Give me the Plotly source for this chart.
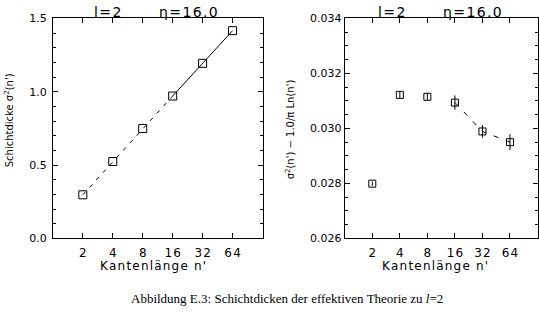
import plotly.graph_objects as go

# ---- data ----
n_vals = [2, 4, 8, 16, 32, 64]
tick_labels = ["2", "4", "8", "16", "32", "64"]
sigma2 = [0.297, 0.524, 0.749, 0.971, 1.194, 1.417]
sigma2_corr = [0.02799, 0.03122, 0.03115, 0.03094, 0.02989, 0.02950]
sigma2_corr_err = [0.00008, 0.00012, 0.00012, 0.00026, 0.00023, 0.00029]

W, H = 539, 326
def px(x):
    return x / W
def py(y):
    return 1 - y / H

FONT = "DejaVu Sans"
HS = "\u200a"  # hair space for wider letter spacing
def spaced(s):
    return HS.join(list(s))

fig = go.Figure()

# left panel: dashed 2..16, solid 16..64
fig.add_trace(go.Scatter(x=n_vals[:4], y=sigma2[:4], mode="lines",
                         line=dict(color="black", width=1, dash="4px,6px"),
                         xaxis="x", yaxis="y", showlegend=False))
fig.add_trace(go.Scatter(x=n_vals[3:], y=sigma2[3:], mode="lines",
                         line=dict(color="black", width=1),
                         xaxis="x", yaxis="y", showlegend=False))
fig.add_trace(go.Scatter(x=n_vals, y=sigma2, mode="markers",
                         marker=dict(symbol="square-open", size=8, color="black",
                                     line=dict(width=1, color="black")),
                         xaxis="x", yaxis="y", showlegend=False))

# right panel
fig.add_trace(go.Scatter(x=n_vals[3:], y=sigma2_corr[3:], mode="lines",
                         line=dict(color="black", width=1, dash="5px,8px"),
                         xaxis="x2", yaxis="y2", showlegend=False))
fig.add_trace(go.Scatter(x=n_vals, y=sigma2_corr, mode="markers",
                         marker=dict(symbol="square-open", size=7, color="black",
                                     line=dict(width=1, color="black")),
                         error_y=dict(type="data", array=sigma2_corr_err, visible=True,
                                      color="black", thickness=1, width=0),
                         xaxis="x2", yaxis="y2", showlegend=False))

yb, yt = py(242), py(13)
common_x = dict(type="log", range=[0, 2.10721], tickvals=n_vals,
                ticktext=[spaced(t) for t in tick_labels],
                showline=True, linecolor="black", linewidth=1, mirror="allticks",
                ticks="inside", ticklen=5, tickcolor="black", showgrid=False,
                zeroline=False, ticklabelstandoff=3,
                tickfont=dict(family=FONT, size=12, color="black"))
common_y = dict(showline=True, linecolor="black", linewidth=1, mirror="allticks",
                ticks="inside", ticklen=5, tickcolor="black", showgrid=False,
                zeroline=False, tickfont=dict(family=FONT, size=11, color="black"))

fig.update_layout(
    width=W, height=H, margin=dict(l=0, r=0, t=0, b=0),
    paper_bgcolor="white", plot_bgcolor="white",
    xaxis=dict(domain=[px(53), px(263)], anchor="y", **common_x),
    yaxis=dict(domain=[yb, yt], anchor="x", range=[0, 1.5], dtick=0.5,
               tickformat=".1f", ticklabelstandoff=3,
               minor=dict(dtick=0.1, ticks="inside", ticklen=3, tickcolor="black"),
               **common_y),
    xaxis2=dict(domain=[px(345.4), px(538.5)], anchor="y2", **common_x),
    yaxis2=dict(domain=[yb, yt], anchor="x2", range=[0.026, 0.034], dtick=0.002,
                tickformat=".3f",
                minor=dict(dtick=0.0005, ticks="inside", ticklen=3, tickcolor="black"),
                **common_y),
)

ann = []
def add(text, x, y, size=12, angle=0, family=FONT, yanchor="middle"):
    ann.append(dict(text=text, x=px(x), y=py(y), xref="paper", yref="paper",
                    showarrow=False, textangle=angle,
                    font=dict(family=family, size=size, color="black"),
                    xanchor="center", yanchor=yanchor))

for cx in (0, 284):
    add(spaced("l=2"), 108 + cx, -4, 14, yanchor="top")
    add(spaced("η=16.0"), 189 + cx, -4, 14, yanchor="top")
add(spaced("Kantenlänge n'"), 153, 271, 12)
add(spaced("Kantenlänge n'"), 436, 271, 12)
add("Schichtdicke σ<sup>2</sup>(n')", 9, 119, 10, -90)
add("σ<sup>2</sup>(n') − 1.0/π Ln(n')", 290, 128, 10, -90)
add("Abbildung E.3: Schichtdicken der effektiven Theorie zu <i>l</i>=2", 288, 305, 13,
    family="Liberation Serif")
fig.update_layout(annotations=ann)

fig.write_html("out.html")
